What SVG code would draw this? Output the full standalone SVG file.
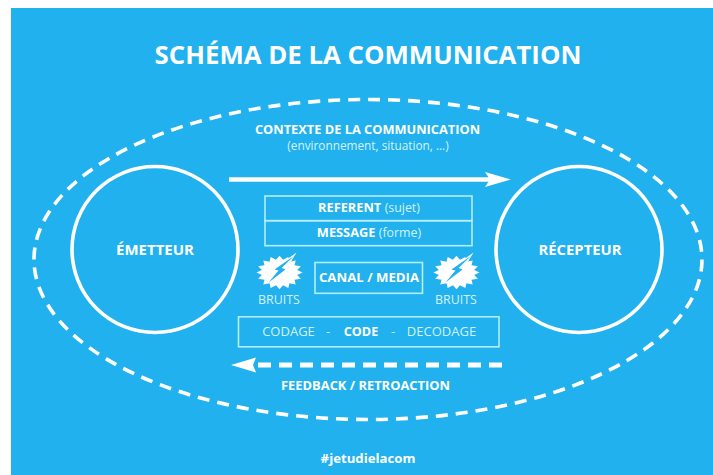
<svg xmlns="http://www.w3.org/2000/svg" width="713" height="475" viewBox="0 0 713 475">
<style>
text{font-family:"Open Sans","Noto Sans","Liberation Sans",sans-serif;fill:#fff;text-anchor:middle}
.b{font-weight:700}
.box{fill:none;stroke:#b5eefb;stroke-width:1.6}
.circle{fill:none;stroke:#fff;stroke-width:3.6}
.lt{fill:#d3f3fc}
</style>
<defs>
<g id="burst">
<polygon fill="#fff" points="23,0 17.7,2.5 21.3,6.3 15,7.2 16.2,11.9 10,10.8 8.8,15.5 3.5,12.8 0,16.8 -3.5,12.8 -8.8,15.5 -10,10.8 -16.2,11.9 -15,7.2 -21.3,6.3 -17.7,2.5 -23,0 -17.7,-2.5 -21.3,-6.3 -15,-7.2 -16.2,-11.9 -10,-10.8 -8.8,-15.5 -3.5,-12.8 0,-16.8 3.5,-12.8 8.8,-15.5 10,-10.8 16.2,-11.9 15,-7.2 21.3,-6.3 17.7,-2.5"/>
<polygon fill="#fff" points="17,-20 11,-10 6,-12"/>
<polygon fill="#21b1ee" points="15,-17 -5,-3 -1,-2 -11,10 6,-3 2,-4.5"/>
</g>
</defs>
<rect x="0" y="0" width="713" height="475" fill="#fff"/>
<rect x="11" y="8" width="702" height="467" fill="#21b1ee"/>
<text class="b" x="368" y="64" font-size="25.8">SCHÉMA DE LA COMMUNICATION</text>
<g id="connectors">
<ellipse id="contexte-ellipse" cx="368" cy="259.5" rx="334" ry="160" fill="none" stroke="#fff" stroke-width="3.6" stroke-dasharray="12 8"/>
<path d="M229 179.5H492" stroke="#fff" stroke-width="4.6" fill="none"/>
<polygon fill="#fff" points="511,179.5 485,172 490,179.5 485,187"/>
<path d="M502 365H250" stroke="#fff" stroke-width="5" fill="none" stroke-dasharray="13 8"/>
<polygon fill="#fff" points="231,365 256,357.5 253,365 256,372.5"/>
</g>
<g id="contexte">
<text class="b" x="367.5" y="133.5" font-size="12.8">CONTEXTE DE LA COMMUNICATION</text>
<text x="368" y="150" font-size="11.8" class="lt">(environnement, situation, ...)</text>
</g>
<g id="emetteur">
<circle class="circle" cx="155" cy="249.5" r="83"/>
<text class="b" x="155" y="255" font-size="15">ÉMETTEUR</text>
</g>
<g id="recepteur">
<circle class="circle" cx="579" cy="249.5" r="83"/>
<text class="b" x="580" y="255" font-size="14.8">RÉCEPTEUR</text>
</g>
<g id="referent">
<rect class="box" x="265" y="196" width="207" height="24.7"/>
<text x="369" y="212" font-size="12.8"><tspan class="b">REFERENT</tspan> <tspan class="lt" font-size="12.4">(sujet)</tspan></text>
</g>
<g id="message">
<rect class="box" x="265" y="220.7" width="207" height="25"/>
<text x="369" y="237" font-size="12.8"><tspan class="b">MESSAGE</tspan> <tspan class="lt" font-size="12.4">(forme)</tspan></text>
</g>
<g id="canal">
<rect class="box" x="315" y="262.5" width="107.5" height="30.8"/>
<text class="b" x="369" y="282" font-size="13.2">CANAL / MEDIA</text>
</g>
<g id="bruits-gauche">
<use href="#burst" x="279.5" y="272.5"/>
<text class="lt" x="279" y="304" font-size="12.4">BRUITS</text>
</g>
<g id="bruits-droite">
<use href="#burst" x="456.5" y="272.5"/>
<text class="lt" x="456" y="304" font-size="12.4">BRUITS</text>
</g>
<g id="code">
<rect class="box" x="238.5" y="316.8" width="260.5" height="30"/>
<text class="lt" x="288.5" y="336" font-size="13">CODAGE</text>
<text class="lt" x="328" y="336" font-size="13">-</text>
<text class="b" x="361" y="336" font-size="12.6">CODE</text>
<text class="lt" x="393" y="336" font-size="13">-</text>
<text class="lt" x="441.5" y="336" font-size="13">DECODAGE</text>
</g>
<g id="feedback">
<text class="b" x="365.5" y="390" font-size="12.9">FEEDBACK / RETROACTION</text>
</g>
<text class="b" x="368" y="463" font-size="13.2">#jetudielacom</text>
</svg>
